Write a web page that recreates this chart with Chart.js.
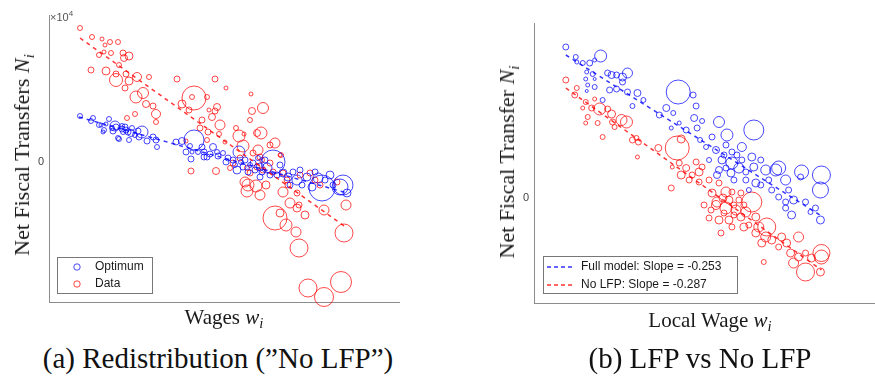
<!DOCTYPE html>
<html>
<head>
<meta charset="utf-8">
<script src="https://cdn.jsdelivr.net/npm/chart.js@4.4.0/dist/chart.umd.min.js"></script>
<style>
  html, body { margin: 0; padding: 0; background: #fff; overflow: hidden; }
  #page { position: relative; width: 875px; height: 385px; overflow: hidden; }
  canvas { position: absolute; top: 0; }
  .txt { position: absolute; white-space: nowrap; color: #1a1a1a; transform: translate(-50%, -50%); }
  .serif { font-family: "Liberation Serif", "DejaVu Serif", serif; }
  .axis-title { font-size: 21px; }
  .axis-title.rot { font-size: 22px; }
  .rot { transform: translate(-50%, -50%) rotate(-90deg); }
  .caption { font-size: 29px; color: #111; }
  .sub { font-size: 0.7em; position: relative; top: 0.3em; }
  .exp { position: absolute; left: 50px; top: 9px; font: 11px "Liberation Sans", Arial, sans-serif; color: #555; }
  .exp sup { font-size: 8px; }
</style>
</head>
<body>
<div id="page">
  <canvas id="chartA" width="437" height="330" style="left:0"></canvas>
  <canvas id="chartB" width="460" height="330" style="left:437px"></canvas>

  <div class="exp">&times;10<sup>4</sup></div>

  <div class="txt serif axis-title rot" style="left:22px; top:155px">Net Fiscal Transfers <i>N<span class="sub">i</span></i></div>
  <div class="txt serif axis-title" style="left:224px; top:317px">Wages <i>w<span class="sub">i</span></i></div>
  <div class="txt serif axis-title rot" style="left:507px; top:162px">Net Fiscal Transfer <i>N<span class="sub">i</span></i></div>
  <div class="txt serif axis-title" style="left:710px; top:320px">Local Wage <i>w<span class="sub">i</span></i></div>

  <div class="txt serif caption" style="left:218px; top:358px">(a) Redistribution (”No LFP”)</div>
  <div class="txt serif caption" style="left:700px; top:358px">(b) LFP vs No LFP</div>
</div>

<script>
// Each point: [wage, net fiscal transfer ($), population weight]
const optimumA = [
  [8.0, 4600, 5], [9.1, 4100, 5], [9.3, 4400, 5], [9.9, 3700, 5], [10.1, 3700, 4],
  [10.9, 4300, 5], [10.4, 3200, 5], [10.6, 3800, 4], [11.5, 3600, 10], [10.3, 3000, 4],
  [11.3, 3100, 6], [11.2, 3400, 5], [11.6, 3500, 6], [11.8, 2400, 5], [12.2, 3600, 5],
  [12.2, 3300, 6], [12.5, 3500, 6], [12.3, 3000, 5], [12.6, 3200, 6], [12.8, 3000, 6],
  [13.1, 2900, 7], [13.2, 3400, 5], [13.5, 2700, 5], [13.8, 3100, 6], [14.2, 3000, 12],
  [13.9, 2500, 6], [11.9, 2300, 5], [12.9, 2200, 5], [14.7, 2100, 6], [15.3, 2500, 6],
  [15.6, 2200, 6], [15.7, 1500, 5], [17.6, 2000, 6], [18.2, 2100, 7], [19.4, 2200, 20],
  [19.0, 1600, 5], [19.2, 1000, 4], [18.6, 1000, 6], [19.1, 300, 6], [20.2, 1500, 6],
  [20.4, 1000, 6], [20.4, 500, 6], [21.3, 1500, 7], [21.7, 1000, 5], [21.0, 800, 6],
  [20.7, 500, 6], [21.8, 600, 6], [22.3, 900, 5], [23.9, 1000, 12], [23.3, 200, 6],
  [23.7, -800, 8], [24.3, -500, 6], [25.3, -100, 6], [24.8, -1000, 6], [26.0, -500, 8],
  [26.7, -600, 10], [27.3, 0, 24], [28.3, -1100, 8], [29.3, -1000, 6], [28.8, -1500, 8],
  [29.7, -1800, 10], [30.7, -1500, 8], [31.8, -1600, 10], [31.2, -2500, 8], [32.2, -2600, 26],
  [34.3, -2300, 20], [34.0, -2500, 16], [33.3, -2300, 6], [34.7, -3100, 8], [26.0, -1500, 6],
  [27.7, -1300, 6], [22.8, 400, 6], [24.5, 200, 6], [25.0, -300, 5], [25.5, -800, 6],
  [26.5, 200, 6], [27.0, -1300, 6], [28.0, -300, 6], [30.0, -800, 6], [32.5, -1800, 6],
  [33.0, -1300, 8], [23.5, -300, 5], [24.1, 0, 5], [25.8, 400, 5], [29.0, -2300, 6],
  [30.2, -2300, 6], [31.5, -1000, 6], [19.8, 1000, 5], [22.6, 0, 6], [26.2, -1000, 6]
];

const dataA = [
  [8.0, 13400, 5], [9.2, 12500, 5], [10.2, 12300, 4], [11.0, 12000, 5], [10.5, 11700, 4],
  [11.8, 12000, 5], [9.9, 10700, 5], [10.4, 11000, 4], [11.1, 10900, 5], [12.3, 10900, 6],
  [12.4, 10400, 7], [12.9, 10600, 8], [11.9, 9700, 5], [9.1, 9200, 6], [10.6, 9100, 8],
  [11.6, 8800, 6], [12.6, 8800, 6], [13.7, 8500, 9], [14.9, 8500, 5], [11.6, 8200, 13],
  [12.9, 8100, 8], [12.5, 7400, 6], [14.3, 6900, 11], [13.6, 6500, 12], [14.6, 5800, 7],
  [15.3, 5600, 6], [15.6, 4800, 9], [13.5, 4800, 5], [12.7, 4400, 5], [15.6, 4000, 5],
  [17.7, 8300, 6], [21.5, 8300, 6], [22.6, 7400, 4], [19.4, 6400, 24], [19.2, 6500, 5],
  [20.7, 6500, 5], [25.1, 6800, 4], [18.2, 5800, 8], [18.9, 5200, 6], [20.9, 5200, 4],
  [21.7, 5500, 7], [21.5, 5100, 6], [21.2, 4500, 7], [20.2, 4200, 6], [22.0, 3700, 10],
  [20.0, 3400, 6], [25.2, 5100, 7], [26.3, 5400, 11], [25.0, 4200, 5], [23.6, 3400, 5],
  [23.9, 2600, 12], [26.1, 2900, 12], [25.7, 2900, 7], [24.4, 2800, 4], [20.8, 3000, 6],
  [21.9, 2800, 5], [27.5, 1900, 10], [27.0, 1700, 6], [24.3, 1600, 12], [25.8, 1200, 10],
  [28.1, 700, 5], [22.5, 2000, 4], [20.7, 2200, 5], [18.6, 2100, 4], [19.1, -900, 6],
  [21.6, -900, 7], [23.3, -100, 6], [24.0, 400, 6], [25.3, 900, 6], [26.0, 500, 6],
  [27.0, -100, 6], [28.0, 700, 4], [25.7, -500, 6], [26.3, -800, 6], [25.0, -1100, 6],
  [24.7, -600, 5], [27.3, -1000, 6], [28.3, -1100, 6], [28.7, -1800, 6], [30.0, -1300, 6],
  [31.0, -1100, 6], [31.5, -1800, 6], [32.0, -2300, 6], [24.5, -2000, 10], [24.8, -2300, 12],
  [25.6, -2400, 12], [24.7, -2900, 12], [26.0, -3300, 10], [28.3, -3000, 10], [28.8, -2300, 6],
  [29.7, -3100, 6], [29.0, -4100, 10], [29.9, -4300, 6], [28.0, -5100, 8], [29.7, -4600, 8],
  [30.5, -5300, 8], [27.5, -5600, 24], [28.6, -6300, 12], [29.6, -7000, 10], [29.9, -8600, 18],
  [32.4, -4800, 10], [34.4, -7100, 18], [34.6, -4300, 10], [33.7, -2000, 6], [30.8, -12600, 18],
  [32.4, -13500, 19], [34.1, -12000, 21], [26.6, -2300, 8], [26.2, 200, 5], [23.0, -600, 5]
];

// fitted trend lines, panel (a)
const optimumFitA = [[7.9, 4500], [34.7, -3100]];
const dataFitA = [[8.0, 12400], [34.7, -6600]];

const fullModelB = [
  [56.6, 15100, 6], [57.6, 14100, 5], [57.7, 13600, 4], [58.3, 13500, 5], [59.0, 13500, 6],
  [59.5, 13800, 4], [60.1, 14200, 12], [58.7, 12600, 4], [59.3, 12400, 5], [60.8, 12500, 6],
  [61.2, 12300, 7], [61.7, 12300, 6], [62.3, 12100, 8], [62.8, 12500, 10], [58.6, 11900, 4],
  [58.8, 11300, 4], [58.7, 10700, 3], [59.5, 11100, 5], [61.0, 10800, 6], [61.7, 10900, 6],
  [62.3, 11600, 6], [62.8, 10600, 6], [63.8, 10500, 7], [60.3, 9800, 5], [63.3, 9200, 5],
  [67.9, 10600, 24], [69.4, 10300, 6], [69.7, 9200, 6], [66.7, 9000, 7], [66.0, 8300, 6],
  [67.4, 8500, 5], [67.2, 7000, 4], [68.0, 7500, 4], [68.7, 6800, 6], [69.5, 8000, 7],
  [69.8, 7000, 6], [70.3, 7700, 5], [72.0, 7600, 11], [72.8, 6300, 12], [75.5, 6800, 20],
  [71.3, 6100, 6], [70.7, 5100, 5], [71.7, 4800, 7], [72.7, 5300, 6], [73.3, 4600, 6],
  [74.3, 5100, 9], [75.3, 4100, 8], [72.3, 3800, 8], [73.3, 3500, 12], [74.0, 3000, 10],
  [74.3, 3800, 6], [72.0, 2800, 7], [71.8, 2300, 7], [73.2, 2500, 8], [74.7, 2600, 6],
  [75.5, 3100, 8], [76.7, 2800, 10], [77.7, 2800, 12], [78.0, 3000, 14], [78.7, 1800, 10],
  [80.3, 2600, 14], [80.2, 2100, 6], [82.3, 2300, 18], [82.2, 800, 16], [77.0, 1800, 6],
  [76.2, 1300, 6], [75.7, 1500, 8], [77.3, 800, 6], [78.0, 100, 6], [78.7, -400, 6],
  [79.5, -200, 8], [78.7, -1000, 6], [79.3, -1700, 8], [80.7, -400, 6], [81.7, -1000, 6],
  [82.2, -2200, 8], [74.7, 1800, 6], [72.5, 4300, 6], [73.8, 4300, 6], [71.0, 3800, 5],
  [70.1, 5800, 5], [76.2, 3800, 6], [79.0, 800, 6], [81.2, -1400, 5], [73.5, 1800, 6],
  [75.0, 800, 5], [72.7, 3000, 6], [59.5, 11900, 3], [64.4, 9800, 5]
];

const noLfpB = [
  [56.6, 11800, 6], [57.7, 11000, 5], [57.5, 10300, 6], [58.6, 9600, 5], [59.5, 9900, 4],
  [58.3, 9000, 4], [59.2, 9000, 6], [60.0, 8900, 12], [60.8, 8900, 6], [61.2, 8400, 8],
  [58.8, 8100, 5], [58.6, 7500, 4], [59.8, 7500, 5], [61.3, 7600, 6], [62.2, 7800, 11],
  [62.7, 7600, 12], [60.3, 6100, 5], [61.5, 7100, 5], [63.3, 5800, 6], [63.7, 6000, 5],
  [63.9, 5600, 6], [63.8, 4100, 4], [65.9, 5000, 7], [67.8, 5000, 24], [68.2, 5900, 8],
  [67.3, 3100, 4], [67.2, 1000, 6], [68.0, 3500, 6], [68.2, 2300, 8], [68.7, 3000, 7],
  [69.0, 1800, 6], [69.3, 2300, 6], [70.0, 2600, 8], [69.7, 3600, 6], [70.3, 3100, 6],
  [71.0, 1800, 6], [71.3, 500, 8], [72.0, 1500, 6], [72.7, 600, 10], [73.3, 600, 6],
  [71.7, -700, 9], [72.7, -1000, 12], [73.7, -1200, 10], [74.2, -1900, 8], [73.0, -2200, 8],
  [72.0, -2200, 8], [73.3, -2900, 6], [74.5, -2900, 8], [75.3, -400, 20], [74.7, -1400, 10],
  [75.7, -1900, 8], [76.0, -2900, 10], [76.8, -2900, 18], [75.7, -3500, 8], [76.7, -3900, 10],
  [76.3, -4500, 8], [77.3, -4200, 8], [78.3, -3900, 8], [78.0, -4900, 6], [78.8, -4500, 8],
  [80.0, -3900, 10], [79.2, -5500, 8], [80.0, -5900, 8], [80.7, -5500, 6], [81.3, -6000, 8],
  [82.3, -5900, 14], [82.3, -5500, 17], [80.7, -7400, 18], [79.5, -6500, 10], [82.2, -7400, 8],
  [76.5, -6400, 5], [72.2, -3500, 6], [71.0, -2000, 6], [71.8, -400, 10], [72.4, 0, 8],
  [73.0, -200, 8], [73.5, -700, 6], [74.0, -200, 6], [74.5, -700, 6], [71.2, -1200, 6],
  [72.5, -1500, 6], [75.0, -2700, 6], [73.5, -1700, 6], [70.5, -700, 6], [74.2, 500, 6],
  [70.0, 1600, 6]
];

// fitted trend lines, panel (b)
const fullModelFitB = [[56.6, 14300], [82.3, -1800]];
const noLfpFitB = [[56.6, 11000], [82.3, -7200]];

const legendA = ["Optimum", "Data"];
const legendB = ["Full model: Slope = -0.253", "No LFP: Slope = -0.287"];

const BLUE = "rgba(0, 0, 255, 0.8)";
const RED = "rgba(255, 0, 0, 0.8)";
const AXIS = "#8c8c8c";

function bubbles(points, color) {
  return {
    type: "bubble",
    data: points.map((p) => ({ x: p[0], y: p[1], r: p[2] / 2 })),
    backgroundColor: "rgba(0,0,0,0)",
    borderColor: color,
    borderWidth: 0.9,
    clip: false,
  };
}

function fitLine(points, color) {
  return {
    type: "line",
    data: points.map((p) => ({ x: p[0], y: p[1] })),
    borderColor: color,
    borderWidth: 1.5,
    borderDash: [4, 4],
    pointRadius: 0,
    fill: false,
  };
}

// legend drawn as a framed box inside the plot
const boxLegend = {
  id: "boxLegend",
  afterDatasetsDraw(chart, args, opts) {
    const ctx = chart.ctx;
    ctx.save();
    ctx.fillStyle = "#fff";
    ctx.fillRect(opts.left, opts.top, opts.width, opts.height);
    ctx.strokeStyle = "#777";
    ctx.lineWidth = 1;
    ctx.strokeRect(opts.left + 0.5, opts.top + 0.5, opts.width, opts.height);
    ctx.font = '12px "Liberation Sans", Arial, sans-serif';
    ctx.textBaseline = "middle";
    opts.items.forEach((item, i) => {
      const y = opts.rowY[i];
      ctx.strokeStyle = item.color;
      if (item.kind === "circle") {
        ctx.lineWidth = 0.9;
        ctx.beginPath();
        ctx.arc(opts.markX, y, 3.2, 0, Math.PI * 2);
        ctx.stroke();
      } else {
        ctx.lineWidth = 1.3;
        ctx.setLineDash([4, 3]);
        ctx.beginPath();
        ctx.moveTo(opts.markX - 14, y);
        ctx.lineTo(opts.markX + 14, y);
        ctx.stroke();
        ctx.setLineDash([]);
      }
      ctx.fillStyle = "#1a1a1a";
      ctx.fillText(item.label, opts.textX, y);
    });
    ctx.restore();
  },
};

function makeChart(id, datasets, cfg) {
  return new Chart(document.getElementById(id), {
    data: { datasets },
    options: {
      responsive: false,
      animation: false,
      devicePixelRatio: 1,
      events: [],
      layout: { padding: { left: 0, top: cfg.top, right: cfg.right, bottom: 0 } },
      plugins: { legend: { display: false }, tooltip: { enabled: false }, boxLegend: cfg.legend },
      scales: {
        x: {
          type: "linear",
          min: cfg.xMin,
          max: cfg.xMax,
          grid: { display: false, drawTicks: false },
          border: { display: true, color: AXIS, width: 1 },
          ticks: { display: false },
          afterFit: (s) => { s.height = cfg.xAxisHeight; },
        },
        y: {
          type: "linear",
          min: cfg.yMin,
          max: cfg.yMax,
          grid: { display: false, drawTicks: false },
          border: { display: true, color: AXIS, width: 1 },
          ticks: {
            padding: 5,
            color: "#444",
            font: { family: '"Liberation Sans", Arial, sans-serif', size: 11 },
            callback: (v) => (v === 0 ? "0" : ""),
          },
          afterBuildTicks: (s) => { s.ticks = [{ value: 0 }]; },
          afterFit: (s) => { s.width = cfg.yAxisWidth; },
        },
      },
    },
    plugins: [boxLegend],
  });
}

makeChart(
  "chartA",
  [
    fitLine(optimumFitA, BLUE),
    fitLine(dataFitA, RED),
    bubbles(optimumA, BLUE),
    bubbles(dataA, RED),
  ],
  {
    xMin: 4.9, xMax: 39.9, yMin: -14000, yMax: 14700,
    top: 15, right: 38, xAxisHeight: 28, yAxisWidth: 49,
    legend: {
      left: 57, top: 257, width: 95, height: 36,
      markX: 77, textX: 95, rowY: [267, 284],
      items: [
        { label: legendA[0], color: BLUE, kind: "circle" },
        { label: legendA[1], color: RED, kind: "circle" },
      ],
    },
  }
);

makeChart(
  "chartB",
  [
    fitLine(fullModelFitB, BLUE),
    fitLine(noLfpFitB, RED),
    bubbles(fullModelB, BLUE),
    bubbles(noLfpB, RED),
  ],
  {
    xMin: 53.4, xMax: 88.6, yMin: -10500, yMax: 17500,
    top: 23, right: 11, xAxisHeight: 27, yAxisWidth: 97,
    legend: {
      left: 106, top: 256, width: 194, height: 37,
      markX: 124, textX: 144, rowY: [267, 285],
      items: [
        { label: legendB[0], color: BLUE, kind: "dash" },
        { label: legendB[1], color: RED, kind: "dash" },
      ],
    },
  }
);
</script>
</body>
</html>
